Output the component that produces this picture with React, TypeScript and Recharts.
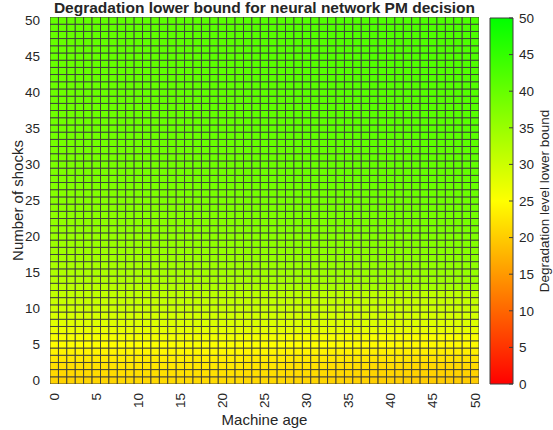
import { Bar, BarChart, Scatter, ScatterChart, XAxis, YAxis } from "recharts";

// axis categories
const AGES = [0, 1, 2, 3, 4, 5, 6, 7, 8, 9, 10, 11, 12, 13, 14, 15, 16, 17, 18, 19, 20, 21, 22, 23, 24, 25, 26, 27, 28, 29, 30, 31, 32, 33, 34, 35, 36, 37, 38, 39, 40, 41, 42, 43, 44, 45, 46, 47, 48, 49, 50];
const SHOCKS = [0, 1, 2, 3, 4, 5, 6, 7, 8, 9, 10, 11, 12, 13, 14, 15, 16, 17, 18, 19, 20, 21, 22, 23, 24, 25, 26, 27, 28, 29, 30, 31, 32, 33, 34, 35, 36, 37, 38, 39, 40, 41, 42, 43, 44, 45, 46, 47, 48, 49, 50];
const TICKS = [0, 5, 10, 15, 20, 25, 30, 35, 40, 45, 50];

// lower bound read per shock row, sampled at machine ages 0,5,...,50
const AGE_KNOTS = [0, 5, 10, 15, 20, 25, 30, 35, 40, 45, 50];
const LOWER_BOUND = [
  [20.6, 20.9, 21.2, 21.4, 21.4, 21.2, 20.9, 20.6, 20.2, 19.9, 20.0],
  [21.2, 21.5, 21.8, 22.0, 22.0, 21.8, 21.5, 21.2, 20.8, 20.5, 20.6],
  [21.9, 22.2, 22.5, 22.7, 22.7, 22.5, 22.2, 21.9, 21.5, 21.2, 21.3],
  [22.7, 22.9, 23.1, 23.3, 23.3, 23.1, 22.9, 22.7, 22.5, 22.3, 22.4],
  [23.7, 23.9, 24.1, 24.3, 24.3, 24.1, 23.9, 23.7, 23.5, 23.3, 23.4],
  [24.8, 25.0, 25.2, 25.4, 25.4, 25.2, 25.0, 24.8, 24.6, 24.4, 24.5],
  [25.9, 26.1, 26.3, 26.5, 26.5, 26.3, 26.1, 25.9, 25.7, 25.5, 25.6],
  [27.0, 27.2, 27.4, 27.6, 27.7, 27.7, 27.6, 27.5, 27.4, 27.3, 27.4],
  [28.0, 28.2, 28.4, 28.6, 28.7, 28.7, 28.6, 28.5, 28.4, 28.3, 28.4],
  [28.9, 29.1, 29.3, 29.5, 29.6, 29.6, 29.5, 29.4, 29.3, 29.2, 29.3],
  [29.8, 30.0, 30.2, 30.4, 30.5, 30.5, 30.4, 30.3, 30.2, 30.1, 30.2],
  [30.5, 30.7, 30.9, 31.1, 31.2, 31.2, 31.1, 31.0, 30.9, 30.8, 30.9],
  [31.2, 31.4, 31.6, 31.8, 31.9, 31.9, 31.8, 31.7, 31.6, 31.5, 31.6],
  [31.8, 32.1, 32.4, 32.7, 33.0, 33.3, 33.6, 33.8, 34.0, 34.2, 34.3],
  [32.4, 32.7, 33.0, 33.3, 33.6, 33.9, 34.2, 34.4, 34.6, 34.8, 34.9],
  [33.0, 33.3, 33.6, 33.9, 34.2, 34.5, 34.8, 35.0, 35.2, 35.4, 35.5],
  [33.5, 33.8, 34.1, 34.4, 34.7, 35.0, 35.3, 35.5, 35.7, 35.9, 36.0],
  [34.0, 34.3, 34.6, 34.9, 35.2, 35.5, 35.8, 36.0, 36.2, 36.4, 36.5],
  [34.4, 34.7, 35.0, 35.3, 35.6, 35.9, 36.2, 36.4, 36.6, 36.8, 36.9],
  [34.8, 35.1, 35.4, 35.7, 36.0, 36.3, 36.6, 36.8, 37.0, 37.2, 37.3],
  [35.2, 35.5, 35.8, 36.1, 36.4, 36.7, 37.0, 37.2, 37.4, 37.6, 37.7],
  [35.6, 35.9, 36.2, 36.5, 36.8, 37.1, 37.4, 37.6, 37.8, 38.0, 38.1],
  [35.9, 36.2, 36.5, 36.8, 37.1, 37.4, 37.7, 37.9, 38.1, 38.3, 38.4],
  [36.2, 36.5, 36.8, 37.1, 37.4, 37.7, 38.0, 38.2, 38.4, 38.6, 38.7],
  [36.5, 36.8, 37.1, 37.4, 37.7, 38.0, 38.3, 38.5, 38.7, 38.9, 39.0],
  [36.8, 37.1, 37.4, 37.7, 38.0, 38.3, 38.6, 38.8, 39.0, 39.2, 39.3],
  [37.1, 37.4, 37.7, 38.0, 38.3, 38.6, 38.9, 39.1, 39.3, 39.5, 39.6],
  [37.4, 37.7, 38.0, 38.3, 38.6, 38.9, 39.2, 39.4, 39.6, 39.8, 39.9],
  [37.6, 37.9, 38.2, 38.5, 38.8, 39.1, 39.4, 39.6, 39.8, 40.0, 40.1],
  [37.8, 38.1, 38.4, 38.7, 39.0, 39.3, 39.6, 39.8, 40.0, 40.2, 40.3],
  [38.0, 38.3, 38.6, 38.9, 39.2, 39.5, 39.8, 40.0, 40.2, 40.4, 40.5],
  [38.2, 38.5, 38.8, 39.1, 39.4, 39.7, 40.0, 40.2, 40.4, 40.6, 40.7],
  [38.4, 38.7, 39.0, 39.3, 39.6, 39.9, 40.2, 40.4, 40.6, 40.8, 40.9],
  [38.6, 38.9, 39.2, 39.5, 39.8, 40.1, 40.4, 40.6, 40.8, 41.0, 41.1],
  [38.8, 39.1, 39.4, 39.7, 40.0, 40.3, 40.6, 40.8, 41.0, 41.2, 41.3],
  [39.0, 39.3, 39.6, 39.9, 40.2, 40.5, 40.8, 41.0, 41.2, 41.4, 41.5],
  [39.1, 39.4, 39.7, 40.0, 40.3, 40.6, 40.9, 41.1, 41.3, 41.4, 41.5],
  [39.2, 39.5, 39.8, 40.1, 40.4, 40.7, 41.0, 41.2, 41.4, 41.5, 41.6],
  [39.3, 39.6, 39.9, 40.2, 40.5, 40.8, 41.1, 41.3, 41.5, 41.6, 41.7],
  [39.4, 39.7, 40.0, 40.3, 40.6, 40.9, 41.2, 41.4, 41.6, 41.7, 41.8],
  [39.5, 39.8, 40.1, 40.4, 40.7, 41.0, 41.3, 41.5, 41.7, 41.8, 41.9],
  [39.6, 39.9, 40.2, 40.5, 40.8, 41.1, 41.4, 41.6, 41.8, 41.9, 42.0],
  [39.7, 40.0, 40.3, 40.6, 40.9, 41.2, 41.5, 41.7, 41.9, 42.0, 42.1],
  [39.8, 40.1, 40.4, 40.7, 41.0, 41.3, 41.6, 41.8, 42.0, 42.1, 42.2],
  [39.9, 40.2, 40.5, 40.8, 41.1, 41.4, 41.7, 41.9, 42.1, 42.2, 42.3],
  [40.0, 40.3, 40.6, 40.9, 41.2, 41.5, 41.8, 42.0, 42.2, 42.3, 42.4],
  [40.0, 40.3, 40.6, 40.9, 41.2, 41.5, 41.8, 42.0, 42.2, 42.3, 42.4],
  [40.1, 40.4, 40.7, 41.0, 41.3, 41.6, 41.9, 42.1, 42.3, 42.4, 42.5],
  [40.1, 40.4, 40.7, 41.0, 41.3, 41.6, 41.9, 42.1, 42.3, 42.4, 42.5],
  [40.2, 40.5, 40.8, 41.1, 41.4, 41.7, 42.0, 42.2, 42.4, 42.5, 42.6],
  [40.2, 40.5, 40.8, 41.1, 41.4, 41.7, 42.0, 42.2, 42.4, 42.5, 42.6],
];

// colorbar range
const CBAR = [{ name: "cbar", top: 50 }];

const FONT = "Arial, 'Liberation Sans', Helvetica, sans-serif";
const INK = "#262626";
const W = 553;
const H = 430;
// plot box
const PL = 50, PR = 479, PT = 17, PB = 384;
const CELL_W = (PR - PL) / AGES.length;
const CELL_H = (PB - PT) / SHOCKS.length;

function colorOf(v: number) {
  const t = Math.max(0, Math.min(50, v));
  if (t <= 25) return `rgb(255,${Math.round((255 * t) / 25)},0)`;
  return `rgb(${Math.round((255 * (50 - t)) / 25)},255,0)`;
}

function nearestKnot(age: number) {
  let best = 0;
  AGE_KNOTS.forEach((k, i) => {
    if (Math.abs(k - age) < Math.abs(AGE_KNOTS[best] - age)) best = i;
  });
  return best;
}

const cells = SHOCKS.flatMap((s, si) =>
  AGES.map((a) => ({ age: a, shocks: s, value: LOWER_BOUND[si][nearestKnot(a)] }))
);

const CellShape = (p: any) => (
  <rect
    x={p.cx - CELL_W / 2}
    y={p.cy - CELL_H / 2}
    width={CELL_W}
    height={CELL_H}
    fill={colorOf(p.payload.value)}
    stroke="#3c3c3c"
    strokeWidth={0.9}
  />
);

const XTick = (p: any) => (
  <text
    x={p.x}
    y={p.y}
    transform={`rotate(-90, ${p.x}, ${p.y})`}
    textAnchor="end"
    dy="0.35em"
    fontSize={13.5}
    fill={INK}
    fontFamily={FONT}
  >
    {p.payload.value}
  </text>
);

const YTick = (p: any) => (
  <text x={p.x} y={p.y} textAnchor="end" dy="0.35em" fontSize={13.5} fill={INK} fontFamily={FONT}>
    {p.payload.value}
  </text>
);

// colorbar tick: short inward mark on the bar's right edge plus the label
const CbTick = (p: any) => (
  <g>
    <line x1={p.x - 10} x2={p.x - 6} y1={p.y} y2={p.y} stroke="#3c3c3c" />
    <text x={p.x} y={p.y} textAnchor="start" dy="0.35em" fontSize={13.5} fill={INK} fontFamily={FONT}>
      {p.payload.value}
    </text>
  </g>
);

export default function App() {
  return (
    <div style={{ position: "absolute", left: 0, top: 0, width: W, height: H, background: "#fff", fontFamily: FONT }}>
      <div style={{ position: "absolute", left: 0, top: 0 }}>
        <ScatterChart width={W} height={H} margin={{ top: PT, right: W - PR, bottom: 10, left: 10 }}>
          <XAxis
            type="number"
            dataKey="age"
            domain={[-0.5, 50.5]}
            ticks={TICKS}
            tick={<XTick />}
            tickLine={false}
            axisLine={false}
            height={H - PB - 10}
            tickMargin={3}
            allowDataOverflow
            label={{ value: "Machine age", position: "insideBottom", offset: -5, fontSize: 15, fill: INK, fontFamily: FONT }}
          />
          <YAxis
            type="number"
            dataKey="shocks"
            domain={[-0.5, 50.5]}
            ticks={TICKS}
            tick={<YTick />}
            tickLine={false}
            axisLine={false}
            width={PL - 10}
            tickMargin={4}
            allowDataOverflow
            label={{ value: "Number of shocks", angle: -90, position: "insideLeft", offset: 0, dx: 8, fontSize: 15, fill: INK, fontFamily: FONT, style: { textAnchor: "middle" } }}
          />
          <Scatter data={cells} shape={CellShape} isAnimationActive={false} />
          <text x={(PL + PR) / 2} y={13} textAnchor="middle" fontSize={15.5} fontWeight="bold" fill={INK} fontFamily={FONT}>
            Degradation lower bound for neural network PM decision
          </text>
        </ScatterChart>
      </div>
      <div style={{ position: "absolute", left: 480, top: 0 }}>
        <BarChart
          width={W - 480}
          height={H}
          data={CBAR}
          barCategoryGap={0}
          margin={{ top: 18, right: 0, bottom: H - 384, left: 10 }}
        >
          <defs>
            <linearGradient id="cbGrad" x1="0" y1="0" x2="0" y2="1">
              <stop offset="0%" stopColor="#00ff00" />
              <stop offset="50%" stopColor="#ffff00" />
              <stop offset="100%" stopColor="#ff0000" />
            </linearGradient>
          </defs>
          <XAxis type="category" dataKey="name" hide />
          <YAxis
            type="number"
            orientation="right"
            domain={[0, 50]}
            ticks={TICKS}
            tick={<CbTick />}
            tickLine={false}
            axisLine={false}
            width={40}
            tickSize={6}
            tickMargin={0}
            label={{ value: "Degradation level lower bound", angle: -90, position: "insideRight", offset: 0, dx: -9, fontSize: 13.5, fill: INK, fontFamily: FONT, style: { textAnchor: "middle" } }}
          />
          <Bar dataKey="top" fill="url(#cbGrad)" stroke="#3c3c3c" strokeWidth={1} isAnimationActive={false} />
        </BarChart>
      </div>
    </div>
  );
}
